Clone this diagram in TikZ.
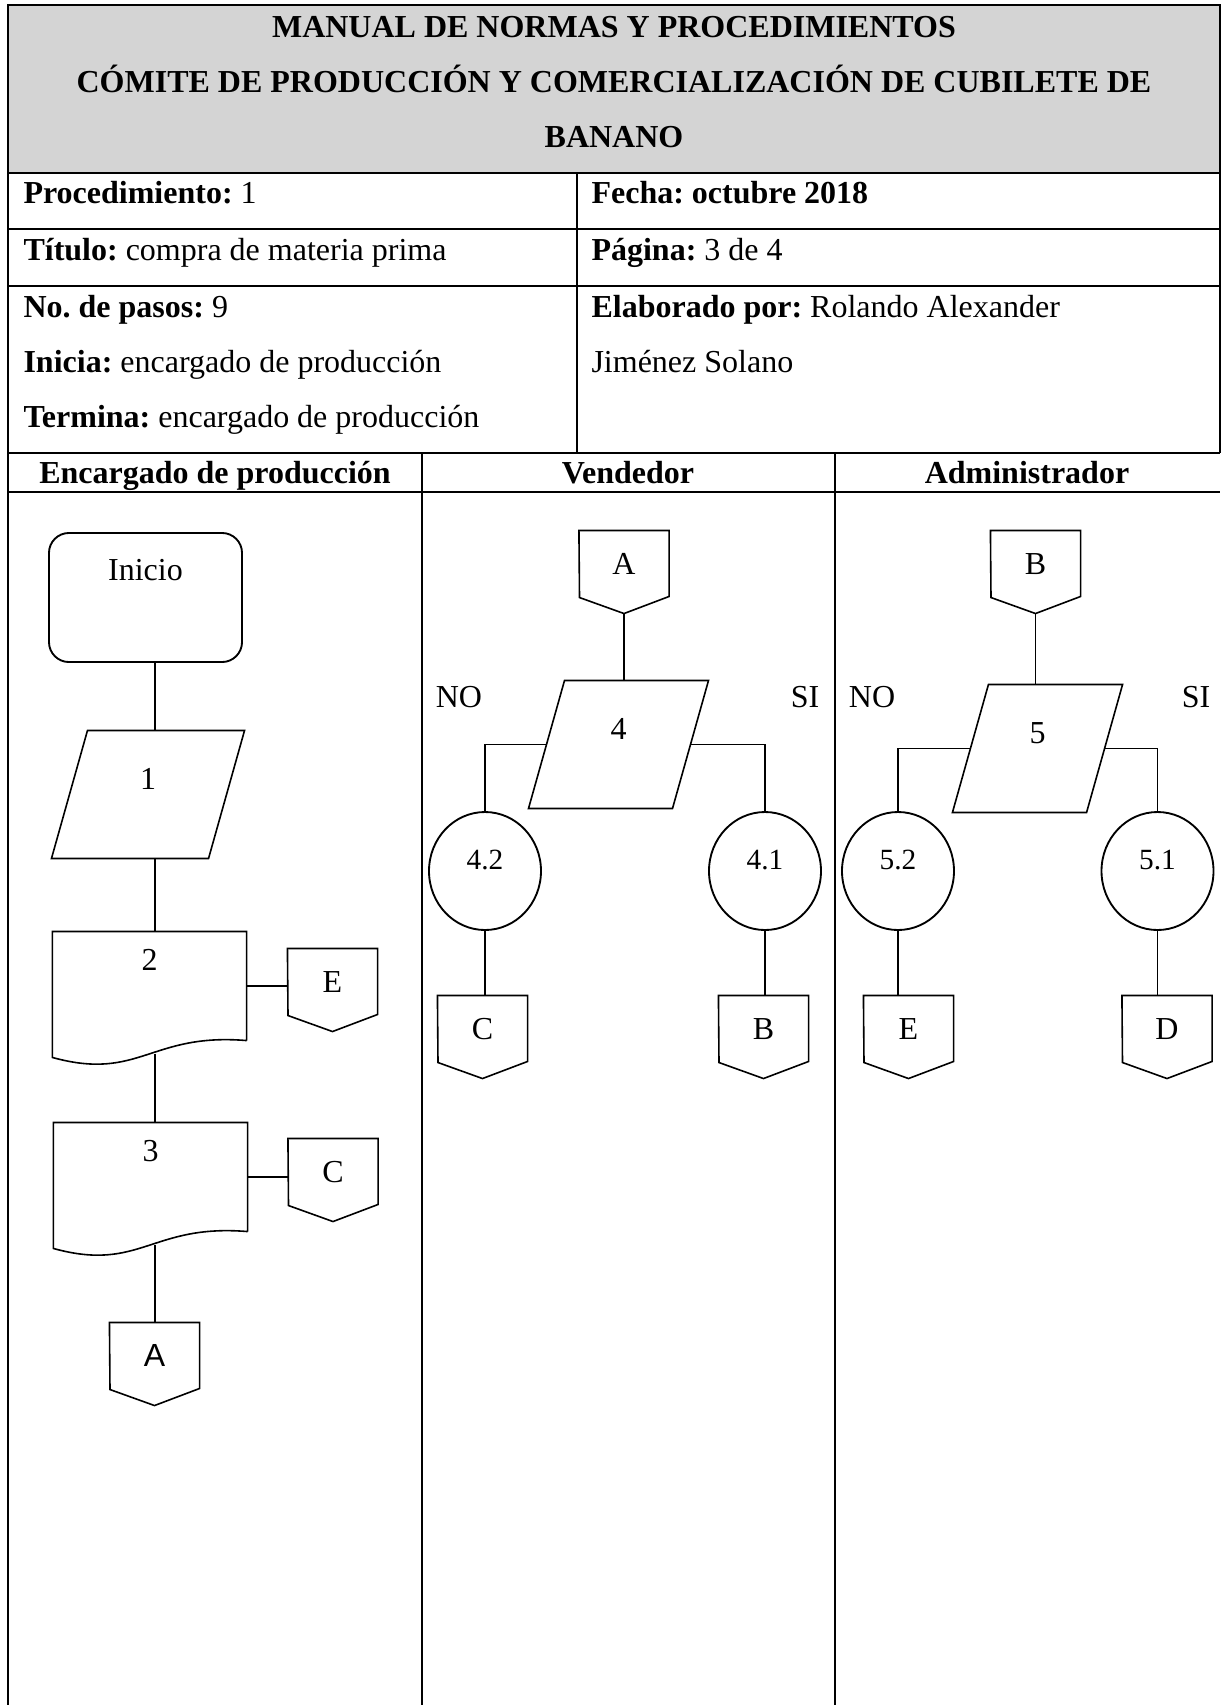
\documentclass[tikz,border=0pt]{standalone}
\usepackage{fontspec}
\setmainfont{Liberation Serif}
\newfontfamily\sansfam{Liberation Sans}
\usetikzlibrary{calc,shapes.geometric}
\frenchspacing

\begin{document}
\begin{tikzpicture}[x=0.375pt,y=-0.375pt,
    font=\fontsize{12}{14.4}\selectfont,
    raya/.style={line width=0.8pt},
    flujo/.style={line width=0.6pt},
    inicio/.style={draw,line width=0.7pt,rounded corners=7.5pt,minimum width=72.4pt,minimum height=48.4pt,text height=8pt,text depth=21pt},
    datos/.style={minimum width=#1,minimum height=47.6pt,text height=8pt,text depth=11.4pt},
    docu/.style={minimum width=72.4pt,minimum height=40.5pt,text height=8pt,text depth=19.3pt},
    circ/.style={draw,ellipse,line width=0.7pt,minimum width=42pt,minimum height=44.25pt,text height=8pt,text depth=9pt,font=\fontsize{11}{13}\selectfont},
    offp/.style={minimum width=33.4pt,minimum height=30.75pt,text height=8pt,text depth=6.5pt}]
    \tikzstyle{every node}+=[inner sep=0pt]
    \useasboundingbox (0,0) rectangle (1222,1705);
    \fill [black!17] (8,5) rectangle (1220,173);
    \draw [raya] (8,1705) -- (8,5) -- (1220,5) -- (1220,453);
    \foreach \y in {173,229,286,453,492}
        \draw [raya] (8,\y) -- (1220,\y);
    \draw [raya] (577,173) -- (577,453);
    \foreach \x in {422,835}
        \draw [raya] (\x,453) -- (\x,1705);

    \node [anchor=base,font=\fontsize{12}{14.4}\selectfont\bfseries] (tit1) at (614,37) {MANUAL DE NORMAS Y PROCEDIMIENTOS};
    \node [anchor=base,font=\fontsize{12}{14.4}\selectfont\bfseries] (tit2) at (614,92) {CÓMITE DE PRODUCCIÓN Y COMERCIALIZACIÓN DE CUBILETE DE};
    \node [anchor=base,font=\fontsize{12}{14.4}\selectfont\bfseries] (tit3) at (614,147) {BANANO};
    \node [anchor=base west] (proc) at (23,203) {\textbf{Procedimiento:} 1};
    \node [anchor=base west] (fecha) at (591,203) {\textbf{Fecha: octubre 2018}};
    \node [anchor=base west] (titulo) at (23,260) {\textbf{Título:} compra de materia prima};
    \node [anchor=base west] (pagina) at (591,260) {\textbf{Página:} 3 de 4};
    \node [anchor=base west] (pasos) at (23,317) {\textbf{No. de pasos:} 9};
    \node [anchor=base west] (inicia) at (23,372) {\textbf{Inicia:} encargado de producción};
    \node [anchor=base west] (termina) at (23,427) {\textbf{Termina:} encargado de producción};
    \node [anchor=base west] (elab) at (591,317) {\textbf{Elaborado por:} Rolando Alexander};
    \node [anchor=base west] (elab2) at (591,372) {Jiménez Solano};
    \node [anchor=base,font=\fontsize{12}{14.4}\selectfont\bfseries] (carril1) at (215,483) {Encargado de producción};
    \node [anchor=base,font=\fontsize{12}{14.4}\selectfont\bfseries] (carril2) at (628,483) {Vendedor};
    \node [anchor=base,font=\fontsize{12}{14.4}\selectfont\bfseries] (carril3) at (1027,483) {Administrador};

    \node [inicio] (ini) at (145.5,597.5) {Inicio};
    \node [datos=58.5pt] (p1) at (148,794.5) {1};
    \node [docu] (d2) at (149.5,986) {2};
    \node [offp] (cE1) at (332.5,990) {E};
    \node [docu] (d3) at (150.5,1177) {3};
    \node [offp] (cC1) at (333,1180) {C};
    \node [offp,font=\fontsize{12}{14.4}\sansfam] (cA1) at (154.5,1364) {A};
    \coordinate (ejeA) at (155,0);

    \node [offp] (cA2) at (624,572) {A};
    \node [datos=53.6pt] (p4) at (618.5,744.5) {4};
    \node (no4) at (459,697) {NO};
    \node (si4) at (805,697) {SI};
    \node [circ] (c42) at (485,871) {4.2};
    \node [circ] (c41) at (765,871) {4.1};
    \node [offp] (cC2) at (482.5,1037) {C};
    \node [offp] (cB2) at (763.5,1037) {B};

    \node [offp] (cB3) at (1035.5,572) {B};
    \node [datos=49.9pt] (p5) at (1037.5,748.5) {5};
    \node (no5) at (872,697) {NO};
    \node (si5) at (1196,697) {SI};
    \node [circ] (c52) at (898,871) {5.2};
    \node [circ] (c51) at (1157.5,871) {5.1};
    \node [offp] (cE3) at (908.5,1037) {E};
    \node [offp] (cD3) at (1167,1037) {D};

    \foreach \n in {p1,p4,p5}
        \draw [flujo] ($(\n.north west)+(18,0)$) -- ($(\n.north east)+(18,0)$) -- ($(\n.south east)+(-18,0)$) -- ($(\n.south west)+(-18,0)$) -- cycle;
    \foreach \n in {d2,d3}
        \draw [flujo] (\n.south east) -- (\n.north east) -- (\n.north west) -- ($(\n.north west)+(0,126)$) .. controls +(87,24) and +(-96.5,-8) .. (\n.south east);
    \foreach \n in {cE1,cC1,cA1,cA2,cC2,cB2,cB3,cE3,cD3}
        \draw [flujo] (\n.south) -- ++(-44.5,-16) -- (\n.north west) -- (\n.north east) -- ($(\n.north east)+(0,66)$) -- cycle;

    \draw [flujo] (ini.south -| ejeA) -- (p1.north -| ejeA);
    \draw [flujo] (p1.south -| ejeA) -- (d2.north -| ejeA);
    \draw [flujo] (d2.south -| ejeA) ++(0,13) -- (d3.north -| ejeA);
    \draw [flujo] (d3.south -| ejeA) ++(0,13) -- (cA1.north -| ejeA);
    \draw [flujo] (d2.east) -- (d2.east -| cE1.west);
    \draw [flujo] (d3.east) -- (d3.east -| cC1.west);

    \draw [flujo] (cA2.south) -- (cA2.south |- p4.north);
    \draw [flujo] (p4.west) -| (c42.north);
    \draw [flujo] (p4.east) -| (c41.north);
    \draw [flujo] (c42.south) -- (c42.south |- cC2.north);
    \draw [flujo] (c41.south) -- (c41.south |- cB2.north);

    \draw [flujo] (cB3.south) -- (cB3.south |- p5.north);
    \draw [flujo] (p5.west) -| (c52.north);
    \draw [flujo] (p5.east) -| (c51.north);
    \draw [flujo] (c52.south) -- (c52.south |- cE3.north);
    \draw [flujo] (c51.south) -- (c51.south |- cD3.north);
\end{tikzpicture}
\end{document}
